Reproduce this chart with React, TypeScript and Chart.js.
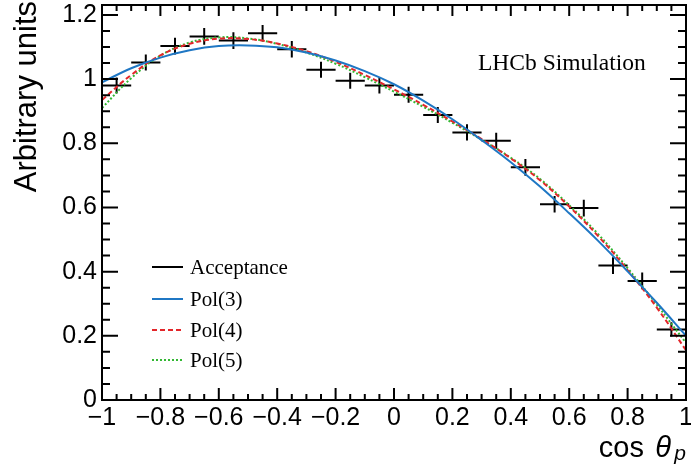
import React, { useEffect, useRef } from "react";
import { Chart, registerables } from "chart.js";

Chart.register(...registerables);

// ---- data ----
const binCenters = [-0.95, -0.85, -0.75, -0.65, -0.55, -0.45, -0.35, -0.25, -0.15, -0.05, 0.05, 0.15, 0.25, 0.35, 0.45, 0.55, 0.65, 0.75, 0.85, 0.95];
const acceptance = [0.98, 1.052, 1.103, 1.133, 1.12, 1.143, 1.093, 1.029, 0.995, 0.98, 0.951, 0.888, 0.834, 0.808, 0.725, 0.61, 0.598, 0.419, 0.371, 0.22];
const acceptanceErr = [0.025, 0.025, 0.026, 0.026, 0.026, 0.026, 0.026, 0.025, 0.025, 0.025, 0.025, 0.025, 0.025, 0.025, 0.026, 0.026, 0.026, 0.026, 0.026, 0.022];
const binHalfWidth = 0.05;

const curveX = [-1, -0.9, -0.8, -0.7, -0.6, -0.5, -0.4, -0.3, -0.2, -0.1, 0, 0.1, 0.2, 0.3, 0.4, 0.5, 0.6, 0.7, 0.8, 0.9, 1];
const pol3 = [0.99, 1.034, 1.067, 1.09, 1.103, 1.105, 1.099, 1.083, 1.058, 1.025, 0.984, 0.933, 0.875, 0.81, 0.741, 0.665, 0.582, 0.495, 0.401, 0.303, 0.2];
const pol4 = [0.935, 1.013, 1.074, 1.11, 1.126, 1.125, 1.111, 1.087, 1.054, 1.013, 0.968, 0.92, 0.868, 0.813, 0.753, 0.685, 0.603, 0.51, 0.405, 0.288, 0.155];
const pol5 = [0.91, 1.003, 1.073, 1.114, 1.13, 1.127, 1.11, 1.083, 1.048, 1.006, 0.961, 0.914, 0.864, 0.811, 0.755, 0.689, 0.607, 0.516, 0.411, 0.297, 0.178];

const xTickValues = [-1, -0.8, -0.6, -0.4, -0.2, 0, 0.2, 0.4, 0.6, 0.8, 1];
const xTickLabels = ["\u22121", "\u22120.8", "\u22120.6", "\u22120.4", "\u22120.2", "0", "0.2", "0.4", "0.6", "0.8", "1"];
const yTickValues = [0, 0.2, 0.4, 0.6, 0.8, 1, 1.2];
const yTickLabels = ["0", "0.2", "0.4", "0.6", "0.8", "1", "1.2"];
const xMinorTicks = Array.from({ length: 41 }, (_, k) => -1 + k * 0.05);
const yMinorTicks = Array.from({ length: 25 }, (_, k) => k * 0.05);

const seriesLabels = ["Acceptance", "Pol(3)", "Pol(4)", "Pol(5)"];
const COLORS = ["#000000", "#1f77c4", "#e3262a", "#33b833"];
const DASHES: number[][] = [[], [], [5, 3], [2, 2]];

const SANS = "'Liberation Sans', Arial, sans-serif";
const SERIF = "'Liberation Serif', 'Times New Roman', serif";

const errorBars = {
  id: "errorBars",
  beforeDatasetsDraw(chart: any) {
    const { ctx, scales } = chart;
    const x = scales.x, y = scales.y;
    const meta = chart.getDatasetMeta(0);
    ctx.save();
    ctx.strokeStyle = "#000";
    ctx.lineWidth = 2;
    meta.data.forEach((pt: any, i: number) => {
      const x0 = x.getPixelForValue(binCenters[i] - binHalfWidth);
      const x1 = x.getPixelForValue(binCenters[i] + binHalfWidth);
      const y0 = y.getPixelForValue(acceptance[i] - acceptanceErr[i]);
      const y1 = y.getPixelForValue(acceptance[i] + acceptanceErr[i]);
      ctx.beginPath();
      ctx.moveTo(x0, pt.y);
      ctx.lineTo(x1, pt.y);
      ctx.moveTo(pt.x, y0);
      ctx.lineTo(pt.x, y1);
      ctx.stroke();
    });
    ctx.restore();
  },
};

const frame = {
  id: "frame",
  afterDatasetsDraw(chart: any) {
    const { ctx, chartArea: a, scales } = chart;
    const x = scales.x, y = scales.y;
    ctx.save();
    ctx.strokeStyle = "#000";
    ctx.lineWidth = 2;
    ctx.strokeRect(a.left, a.top, a.right - a.left, a.bottom - a.top);
    ctx.beginPath();
    xMinorTicks.forEach((v, k) => {
      const px = x.getPixelForValue(v);
      const major = k % 4 === 0;
      ctx.moveTo(px, a.bottom);
      ctx.lineTo(px, a.bottom - (major ? 12 : 6));
      ctx.moveTo(px, a.top);
      ctx.lineTo(px, a.top + (major ? 11 : 6));
    });
    yMinorTicks.forEach((v, k) => {
      const py = y.getPixelForValue(v);
      const major = k % 4 === 0;
      ctx.moveTo(a.left, py);
      ctx.lineTo(a.left + (major ? 16 : 8), py);
      ctx.moveTo(a.right, py);
      ctx.lineTo(a.right - (major ? 16 : 8), py);
    });
    ctx.stroke();
    ctx.restore();
  },
};

const annotations = {
  id: "annotations",
  afterDraw(chart: any) {
    const { ctx } = chart;
    ctx.save();
    // legend
    const rows = [267, 299, 330, 360];
    ctx.font = `21px ${SERIF}`;
    ctx.textBaseline = "middle";
    ctx.textAlign = "left";
    seriesLabels.forEach((lab, i) => {
      ctx.strokeStyle = COLORS[i];
      ctx.lineWidth = 2;
      ctx.setLineDash(DASHES[i]);
      ctx.beginPath();
      ctx.moveTo(152, rows[i]);
      ctx.lineTo(183, rows[i]);
      ctx.stroke();
      ctx.setLineDash([]);
      ctx.fillStyle = "#000";
      ctx.fillText(lab, 190, rows[i] + 1);
    });
    // LHCb label
    ctx.font = `23.5px ${SERIF}`;
    ctx.textBaseline = "alphabetic";
    ctx.fillText("LHCb Simulation", 478, 70);
    // y title
    ctx.save();
    ctx.translate(36, 1);
    ctx.rotate(-Math.PI / 2);
    ctx.font = `31px ${SANS}`;
    ctx.textAlign = "right";
    ctx.textBaseline = "alphabetic";
    ctx.fillText("Arbitrary units", 0, 0);
    ctx.restore();
    // x title: cos θ_p
    ctx.textAlign = "right";
    ctx.textBaseline = "alphabetic";
    ctx.font = `italic 21px ${SANS}`;
    ctx.fillText("p", 686, 460);
    ctx.font = `italic 29px ${SANS}`;
    ctx.fillText("\u03b8", 671, 457);
    ctx.font = `29px ${SANS}`;
    ctx.fillText("cos", 644, 457);
    ctx.restore();
  },
};

export default function App() {
  const ref = useRef<HTMLCanvasElement>(null);
  useEffect(() => {
    document.body.style.margin = "0";
    const curveData = (vals: number[]) => curveX.map((xv, i) => ({ x: xv, y: vals[i] }));
    const chart = new Chart(ref.current!, {
      type: "line",
      data: {
        datasets: [
          {
            label: seriesLabels[0],
            data: binCenters.map((xv, i) => ({ x: xv, y: acceptance[i] })),
            showLine: false,
            pointRadius: 0,
            borderColor: COLORS[0],
          },
          {
            label: seriesLabels[1],
            data: curveData(pol3),
            borderColor: COLORS[1],
            borderWidth: 2,
            pointRadius: 0,
            tension: 0.4,
          },
          {
            label: seriesLabels[2],
            data: curveData(pol4),
            borderColor: COLORS[2],
            borderWidth: 2,
            borderDash: DASHES[2],
            pointRadius: 0,
            tension: 0.4,
          },
          {
            label: seriesLabels[3],
            data: curveData(pol5),
            borderColor: COLORS[3],
            borderWidth: 2,
            borderDash: DASHES[3],
            pointRadius: 0,
            tension: 0.4,
          },
        ],
      },
      options: {
        responsive: false,
        animation: false,
        devicePixelRatio: 1,
        layout: { padding: { top: 5, right: 5, left: 0, bottom: 0 } },
        plugins: { legend: { display: false }, tooltip: { enabled: false } },
        scales: {
          x: {
            type: "linear",
            min: -1,
            max: 1,
            grid: { display: false, drawTicks: false },
            border: { display: false },
            afterBuildTicks: (s: any) => {
              s.ticks = xTickValues.map((v) => ({ value: v }));
            },
            ticks: {
              callback: (_v: any, i: number) => xTickLabels[i],
              font: { family: SANS, size: 25 },
              color: "#000",
              padding: 3,
              maxRotation: 0,
              autoSkip: false,
            },
            afterFit: (s: any) => {
              s.height = 70;
              s.paddingLeft = 0;
              s.paddingRight = 0;
            },
          },
          y: {
            type: "linear",
            min: 0,
            max: 1.231,
            grid: { display: false, drawTicks: false },
            border: { display: false },
            afterBuildTicks: (s: any) => {
              s.ticks = yTickValues.map((v) => ({ value: v }));
            },
            ticks: {
              callback: (_v: any, i: number) => yTickLabels[i],
              font: { family: SANS, size: 25 },
              color: "#000",
              padding: 5,
              autoSkip: false,
            },
            afterFit: (s: any) => {
              s.width = 102;
              s.paddingTop = 0;
              s.paddingBottom = 0;
            },
          },
        },
      },
      plugins: [errorBars, frame, annotations],
    } as any);
    return () => chart.destroy();
  }, []);
  return (
    <div style={{ width: 691, height: 470 }}>
      <canvas ref={ref} width={691} height={470} style={{ display: "block" }} />
    </div>
  );
}
